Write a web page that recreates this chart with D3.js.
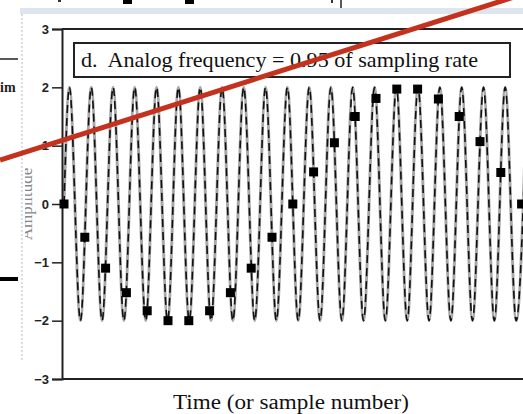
<!DOCTYPE html>
<html><head><meta charset="utf-8">
<script src="https://cdn.jsdelivr.net/npm/d3@7"></script>
<style>body{margin:0;background:#fff;}svg{display:block;}text{white-space:pre;}</style>
</head><body>
<script>
// ---- data ----
const sampleIndex = [0,1,2,3,4,5,6,7,8,9,10,11,12,13,14,15,16,17,18,19,20,21,22];
const sampleValues = [0,-0.57,-1.1,-1.52,-1.83,-2.0,-2.0,-1.83,-1.52,-1.1,-0.57,0,0.55,1.05,1.5,1.81,1.97,1.97,1.8,1.5,1.07,0.54,0];
// analog wave: start, peaks/troughs (time in sample units), end
const analogTimes = [0,0.26,0.79,1.31,1.83,2.36,2.88,3.40,3.93,4.45,4.98,5.50,6.02,6.55,7.07,7.60,8.12,8.64,9.17,9.69,10.21,10.74,11.26,11.79,12.31,12.83,13.36,13.88,14.40,14.93,15.45,15.98,16.50,17.02,17.55,18.07,18.60,19.12,19.64,20.17,20.69,21.21,21.74,22.26];
const analogValues = [0,2,-2,2,-2,2,-2,2,-2,2,-2,2,-2,2,-2,2,-2,2,-2,2,-2,2,-2,2,-2,2,-2,2,-2,2,-2,2,-2,2,-2,2,-2,2,-2,2,-2,2,-2,2];
const yTicks = [-3,-2,-1,0,1,2,3];
const titleText = "d.  Analog frequency = 0.95 of sampling rate";
const xLabel = "Time (or sample number)";
const yLabel = "Amplitude";

const W = 523, H = 414;
const svg = d3.select("body").append("svg").attr("width", W).attr("height", H);

// background scan artefacts
svg.append("rect").attr("x",20).attr("y",8).attr("width",W-20).attr("height",6).attr("fill","#dfe5ef");
svg.append("line").attr("x1",22).attr("x2",22).attr("y1",14).attr("y2",360)
  .attr("stroke","#c8d2e4").attr("stroke-width",1.5).attr("stroke-dasharray","2,2");
// fragments of the previous figure
svg.append("rect").attr("x",123).attr("y",0).attr("width",9).attr("height",4).attr("fill","#000");
svg.append("rect").attr("x",185).attr("y",0).attr("width",9).attr("height",4).attr("fill","#000");
svg.append("rect").attr("x",58).attr("y",0).attr("width",3).attr("height",2).attr("fill","#333");
svg.append("rect").attr("x",331).attr("y",0).attr("width",2).attr("height",3).attr("fill","#333");
svg.append("line").attr("x1",341).attr("x2",341).attr("y1",0).attr("y2",8).attr("stroke","#222").attr("stroke-width",1.5);
svg.append("line").attr("x1",0).attr("x2",18).attr("y1",59).attr("y2",59).attr("stroke","#222").attr("stroke-width",1.5);
svg.append("text").attr("x",0).attr("y",92).attr("font-family","Liberation Serif").attr("font-weight","bold")
  .attr("font-size",14).attr("fill","#222").text("im");
svg.append("rect").attr("x",0).attr("y",277).attr("width",18).attr("height",4).attr("fill","#000");

// scales
const x = d3.scaleLinear().domain([0,22]).range([64,521.6]);
const y = d3.scaleLinear().domain([-3,3]).range([379,29]);
const axisX = 62;

// clip for plot
svg.append("clipPath").attr("id","plot").append("rect").attr("x",axisX).attr("y",29).attr("width",W-axisX).attr("height",350);
svg.append("clipPath").attr("id","ylab").append("rect").attr("x",25).attr("y",0).attr("width",40).attr("height",H);

// y label (partially cut)
svg.append("g").attr("clip-path","url(#ylab)")
  .append("text").attr("transform",`translate(32,${y(0)}) rotate(-90)`).attr("text-anchor","middle")
  .attr("font-family","Liberation Serif").attr("font-size",17).attr("fill","#888").text(yLabel);

// analog wave
const pts = analogTimes.map((t,i)=>[t, analogValues[i]]);
const line = d3.line().x(d=>x(d[0])).y(d=>y(d[1])).curve(d3.curveMonotoneX);
const g = svg.append("g").attr("clip-path","url(#plot)");
g.append("path").attr("d", line(pts)).attr("fill","none").attr("stroke","#a8a8a8").attr("stroke-width",3);
g.append("path").attr("d", line(pts)).attr("fill","none").attr("stroke","#111").attr("stroke-width",1.6)
  .attr("stroke-dasharray","8,5");

// frame
svg.append("line").attr("x1",axisX).attr("x2",W).attr("y1",y(3)).attr("y2",y(3)).attr("stroke","#222").attr("stroke-width",2);
svg.append("line").attr("x1",axisX).attr("x2",W).attr("y1",y(-3)).attr("y2",y(-3)).attr("stroke","#222").attr("stroke-width",2);

// y axis
const yAxis = d3.axisLeft(y).tickValues(yTicks).tickSize(10).tickPadding(3).tickFormat(d3.format("d"));
const ga = svg.append("g").attr("transform",`translate(${axisX},0)`).call(yAxis);
ga.select(".domain").attr("stroke","#222").attr("stroke-width",2);
ga.selectAll(".tick line").attr("stroke","#222").attr("stroke-width",1.5);
ga.selectAll(".tick text").attr("font-family","Liberation Sans").attr("font-weight","bold").attr("font-size",13).attr("fill","#222");

// samples
svg.append("g").selectAll("rect").data(sampleIndex).join("rect")
  .attr("x",d=>x(d)-4.5).attr("y",(d,i)=>y(sampleValues[i])-4.5).attr("width",9).attr("height",9).attr("fill","#000");

// title box
svg.append("rect").attr("x",74).attr("y",43).attr("width",436).attr("height",34)
  .attr("fill","#fff").attr("stroke","#222").attr("stroke-width",2);
svg.append("text").attr("x",81).attr("y",67).attr("font-family","Liberation Serif").attr("font-size",21)
  .attr("fill","#111").attr("textLength",397).attr("lengthAdjust","spacingAndGlyphs").text(titleText);

// x label
svg.append("text").attr("x",173).attr("y",409).attr("font-family","Liberation Serif").attr("font-size",20)
  .attr("fill","#111").attr("textLength",236).attr("lengthAdjust","spacingAndGlyphs").text(xLabel);

// red annotation stroke
svg.append("line").attr("x1",0).attr("y1",160).attr("x2",W).attr("y2",160-0.317*W)
  .attr("stroke","#c4321e").attr("stroke-width",5);
</script>
</body></html>
